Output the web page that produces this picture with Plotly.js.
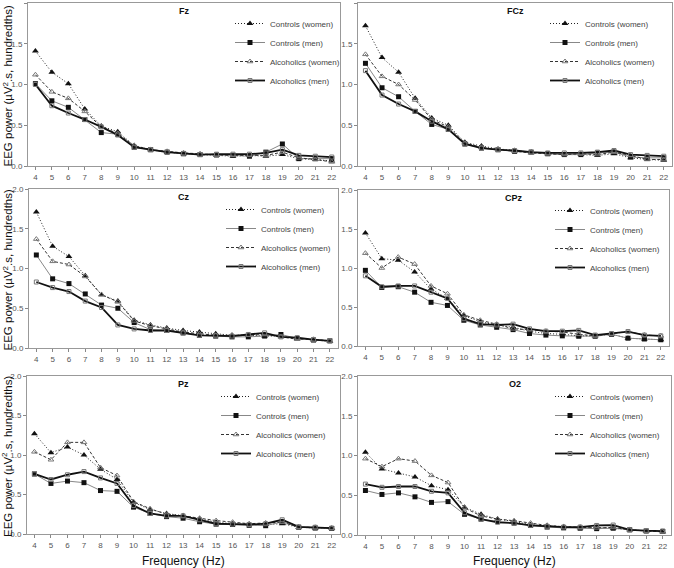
<!DOCTYPE html>
<html>
<head>
<meta charset="utf-8">
<script src="https://cdn.plot.ly/plotly-3.0.1.min.js"></script>
<style>
  body { margin: 0; background: #fff; }
  #chart { width: 674px; height: 568px; }
</style>
</head>
<body>
<div id="chart"></div>
<script>
// frequencies (Hz)
const freq = [4, 5, 6, 7, 8, 9, 10, 11, 12, 13, 14, 15, 16, 17, 18, 19, 20, 21, 22];
const seriesNames = ['Controls (women)', 'Controls (men)', 'Alcoholics (women)', 'Alcoholics (men)'];
const sites = ['Fz', 'FCz', 'Cz', 'CPz', 'Pz', 'O2'];

// EEG power, one array per group and site
const fzCW = [1.41, 1.15, 1.01, 0.70, 0.49, 0.42, 0.25, 0.20, 0.17, 0.15, 0.14, 0.13, 0.12, 0.13, 0.12, 0.14, 0.09, 0.08, 0.06];
const fzCM = [1.01, 0.80, 0.72, 0.57, 0.41, 0.39, 0.23, 0.20, 0.17, 0.15, 0.14, 0.135, 0.13, 0.12, 0.17, 0.27, 0.09, 0.09, 0.09];
const fzAW = [1.12, 0.91, 0.83, 0.67, 0.48, 0.40, 0.25, 0.20, 0.18, 0.16, 0.15, 0.135, 0.13, 0.13, 0.13, 0.17, 0.10, 0.08, 0.05];
const fzAM = [1.00, 0.74, 0.65, 0.57, 0.48, 0.38, 0.23, 0.20, 0.17, 0.155, 0.14, 0.145, 0.145, 0.145, 0.16, 0.20, 0.13, 0.12, 0.11];

const fczCW = [1.72, 1.33, 1.15, 0.83, 0.59, 0.50, 0.29, 0.245, 0.21, 0.19, 0.17, 0.15, 0.14, 0.14, 0.13, 0.15, 0.10, 0.08, 0.07];
const fczCM = [1.26, 0.96, 0.85, 0.67, 0.51, 0.45, 0.27, 0.22, 0.20, 0.18, 0.17, 0.15, 0.14, 0.14, 0.16, 0.17, 0.11, 0.10, 0.10];
const fczAW = [1.37, 1.10, 1.00, 0.81, 0.57, 0.48, 0.28, 0.23, 0.20, 0.18, 0.16, 0.15, 0.14, 0.15, 0.14, 0.17, 0.13, 0.08, 0.08];
const fczAM = [1.17, 0.87, 0.76, 0.67, 0.55, 0.45, 0.27, 0.22, 0.20, 0.19, 0.17, 0.16, 0.16, 0.16, 0.17, 0.19, 0.14, 0.13, 0.12];

const czCW = [1.71, 1.28, 1.15, 0.91, 0.67, 0.59, 0.35, 0.29, 0.25, 0.22, 0.20, 0.18, 0.16, 0.16, 0.15, 0.15, 0.12, 0.10, 0.085];
const czCM = [1.17, 0.87, 0.81, 0.68, 0.54, 0.50, 0.32, 0.23, 0.22, 0.19, 0.16, 0.15, 0.14, 0.14, 0.15, 0.17, 0.12, 0.10, 0.09];
const czAW = [1.37, 1.09, 1.05, 0.90, 0.67, 0.58, 0.34, 0.28, 0.24, 0.20, 0.18, 0.16, 0.16, 0.16, 0.17, 0.14, 0.11, 0.11, 0.09];
const czAM = [0.83, 0.76, 0.71, 0.59, 0.51, 0.29, 0.24, 0.22, 0.22, 0.19, 0.16, 0.155, 0.15, 0.17, 0.19, 0.14, 0.13, 0.105, 0.09];

const cpzCW = [1.45, 1.12, 1.10, 0.95, 0.73, 0.61, 0.39, 0.31, 0.27, 0.24, 0.19, 0.16, 0.15, 0.13, 0.13, 0.15, 0.10, 0.09, 0.08];
const cpzCM = [0.97, 0.75, 0.76, 0.69, 0.56, 0.52, 0.33, 0.27, 0.24, 0.21, 0.16, 0.14, 0.13, 0.125, 0.125, 0.15, 0.10, 0.09, 0.08];
const cpzAW = [1.19, 1.00, 1.14, 1.05, 0.77, 0.67, 0.40, 0.33, 0.28, 0.22, 0.21, 0.19, 0.18, 0.15, 0.13, 0.155, 0.185, 0.14, 0.13];
const cpzAM = [0.90, 0.76, 0.77, 0.77, 0.69, 0.61, 0.35, 0.28, 0.27, 0.28, 0.22, 0.19, 0.19, 0.20, 0.14, 0.16, 0.185, 0.14, 0.13];

const pzCW = [1.27, 1.03, 1.10, 1.00, 0.82, 0.69, 0.40, 0.31, 0.26, 0.23, 0.19, 0.15, 0.13, 0.12, 0.12, 0.13, 0.085, 0.075, 0.07];
const pzCM = [0.76, 0.64, 0.67, 0.65, 0.55, 0.54, 0.34, 0.26, 0.22, 0.20, 0.155, 0.125, 0.12, 0.11, 0.105, 0.155, 0.085, 0.075, 0.07];
const pzAW = [1.04, 0.94, 1.16, 1.16, 0.84, 0.74, 0.41, 0.32, 0.25, 0.23, 0.20, 0.17, 0.15, 0.13, 0.14, 0.15, 0.085, 0.085, 0.075];
const pzAM = [0.76, 0.69, 0.75, 0.79, 0.71, 0.64, 0.36, 0.26, 0.23, 0.23, 0.18, 0.13, 0.125, 0.12, 0.13, 0.18, 0.09, 0.085, 0.075];

const o2CW = [1.04, 0.83, 0.78, 0.73, 0.62, 0.57, 0.35, 0.26, 0.20, 0.17, 0.13, 0.12, 0.105, 0.09, 0.095, 0.085, 0.065, 0.05, 0.04];
const o2CM = [0.56, 0.51, 0.53, 0.48, 0.41, 0.42, 0.26, 0.20, 0.17, 0.15, 0.12, 0.10, 0.09, 0.085, 0.08, 0.085, 0.065, 0.05, 0.045];
const o2AW = [0.96, 0.86, 0.96, 0.93, 0.75, 0.66, 0.34, 0.24, 0.20, 0.18, 0.15, 0.12, 0.105, 0.10, 0.09, 0.095, 0.065, 0.05, 0.04];
const o2AM = [0.64, 0.60, 0.61, 0.61, 0.55, 0.53, 0.28, 0.20, 0.16, 0.15, 0.12, 0.11, 0.10, 0.10, 0.12, 0.125, 0.065, 0.055, 0.05];

const siteData = [
  [fzCW, fzCM, fzAW, fzAM],
  [fczCW, fczCM, fczAW, fczAM],
  [czCW, czCM, czAW, czAM],
  [cpzCW, cpzCM, cpzAW, cpzAM],
  [pzCW, pzCM, pzAW, pzAM],
  [o2CW, o2CM, o2AW, o2AM]
];

const W = 674, H = 568;
const font = 'Arial, "Liberation Sans", sans-serif';
// plot boxes in pixels: left, right, top, bottom
const boxes = [
  [28, 340, 3, 166], [358, 672, 3, 166],
  [29, 338, 189, 348], [358, 669, 190, 346],
  [27, 340, 376, 534], [358, 671, 376, 535]
];
// where each legend starts, px right of the box's left edge
const legendShift = [202, 187, 192, 192, 189, 192];

const styles = [
  { line: { color: '#222', width: 1, dash: '1px,2px' }, marker: { symbol: 'triangle-up', size: 6, color: '#111' } },
  { line: { color: '#888', width: 1 }, marker: { symbol: 'square', size: 5, color: '#111' } },
  { line: { color: '#333', width: 1, dash: '3px,2px' }, marker: { symbol: 'triangle-up-open', size: 5, color: '#777' } },
  { line: { color: '#111', width: 1.8 }, marker: { symbol: 'square-open', size: 4, color: '#777' } }
];

const traces = [];
const layout = {
  width: W, height: H,
  margin: { l: 0, r: 0, t: 0, b: 0 },
  paper_bgcolor: '#fff', plot_bgcolor: '#fff',
  font: { family: font, color: '#444' },
  annotations: []
};

sites.forEach((site, p) => {
  const n = p === 0 ? '' : String(p + 1);
  const [l, r, t, b] = boxes[p];
  const legendName = 'legend' + n;

  siteData[p].forEach((vals, s) => {
    traces.push({
      x: freq, y: vals, name: seriesNames[s],
      type: 'scatter', mode: 'lines+markers',
      xaxis: 'x' + n, yaxis: 'y' + n,
      legend: legendName,
      line: styles[s].line, marker: styles[s].marker
    });
  });

  layout['xaxis' + n] = {
    domain: [l / W, r / W], anchor: 'y' + n,
    range: [3.55, 22.5], tickvals: freq,
    ticks: 'outside', ticklen: 3, tickcolor: '#888',
    showline: true, mirror: true, linecolor: '#999', linewidth: 1,
    showgrid: false, zeroline: false,
    tickfont: { size: 8, color: '#555' }
  };
  layout['yaxis' + n] = {
    domain: [1 - b / H, 1 - t / H], anchor: 'x' + n,
    range: [0, 2], dtick: 0.5, tickformat: '.1f',
    ticks: 'outside', ticklen: 3, tickcolor: '#888',
    showline: true, mirror: true, linecolor: '#999', linewidth: 1,
    showgrid: false, zeroline: false,
    tickfont: { size: 8, color: '#555' }
  };
  layout[legendName] = {
    x: (l + legendShift[p]) / W, y: 1 - (t + 6) / H,
    xanchor: 'left', yanchor: 'top',
    font: { size: 8, color: '#444', family: font },
    bgcolor: 'rgba(0,0,0,0)', itemwidth: 30, tracegroupgap: 0
  };

  layout.annotations.push({
    text: '<b>' + site + '</b>', xref: 'paper', yref: 'paper',
    x: (l + r) / 2 / W, y: 1 - (t + 8) / H,
    xanchor: 'center', yanchor: 'middle',
    showarrow: false, font: { size: 9, color: '#111', family: font }
  });

  if (p % 2 === 0) {
    layout.annotations.push({
      text: 'EEG power (µV<sup>2</sup>.s, hundredths)', xref: 'paper', yref: 'paper',
      x: 7 / W, y: 1 - ((t + b) / 2 + 2) / H, textangle: -90,
      xanchor: 'center', yanchor: 'middle',
      showarrow: false, font: { size: 11.5, color: '#111', family: font }
    });
  }
  if (p >= 4) {
    layout.annotations.push({
      text: 'Frequency (Hz)', xref: 'paper', yref: 'paper',
      x: (l + r) / 2 / W, y: 1 - 561 / H,
      xanchor: 'center', yanchor: 'middle',
      showarrow: false, font: { size: 12, color: '#111', family: font }
    });
  }
});

Plotly.newPlot('chart', traces, layout, { displayModeBar: false, staticPlot: true });
</script>
</body>
</html>
